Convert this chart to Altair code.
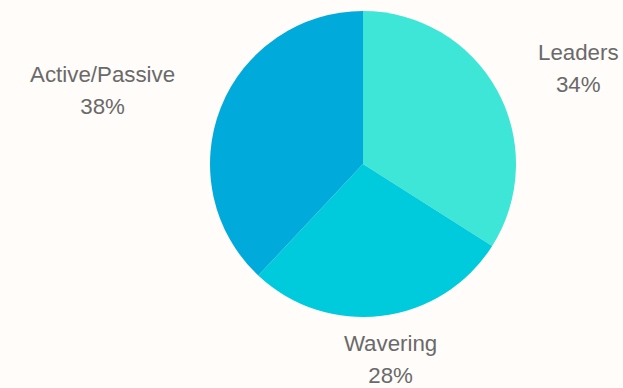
import altair as alt
import pandas as pd

categories = ["Leaders", "Wavering", "Active/Passive"]
shares = [34, 28, 38]
colors = ["#3de6d6", "#00cbdc", "#00aadb"]

df = pd.DataFrame({"category": categories, "share": shares, "idx": list(range(len(categories)))})

W, H = 623, 388
CX, CY, R = 363, 164, 153
RX, RY = 215, 198
LH = 32

base = alt.Chart(df)

pie = base.mark_arc(outerRadius=R).encode(
    theta=alt.Theta("share:Q", stack=True),
    color=alt.Color("category:N", scale=alt.Scale(domain=categories, range=colors), legend=None),
    order=alt.Order("idx:Q"),
    x=alt.value(CX),
    y=alt.value(CY),
)

labels = base.transform_joinaggregate(
    total="sum(share)"
).transform_window(
    cum="sum(share)", sort=[alt.SortField("idx")], frame=[None, 0]
).transform_calculate(
    mid="2*PI*(datum.cum - datum.share/2)/datum.total",
).transform_calculate(
    lx=f"{CX} + {RX}*sin(datum.mid) + 5.0*length(datum.category)*sin(datum.mid)*abs(sin(datum.mid))",
    ly=f"{CY} - {RY}*cos(datum.mid) - {LH / 2}",
    txt="datum.category + '\\n' + datum.share + '%'",
).mark_text(
    font="Liberation Sans", fontSize=22.3, color="#6a6a6a", lineHeight=LH,
    baseline="middle", align="center", lineBreak="\n",
).encode(
    x=alt.X("lx:Q", scale=None),
    y=alt.Y("ly:Q", scale=None),
    text="txt:N",
)

chart = alt.layer(pie, labels).properties(
    width=W, height=H, autosize=alt.AutoSizeParams(type="none"), padding=0,
    background="#fffcf9",
).configure_view(stroke=None)

chart.save("out.html", embed_options={"renderer": "svg", "actions": False})
